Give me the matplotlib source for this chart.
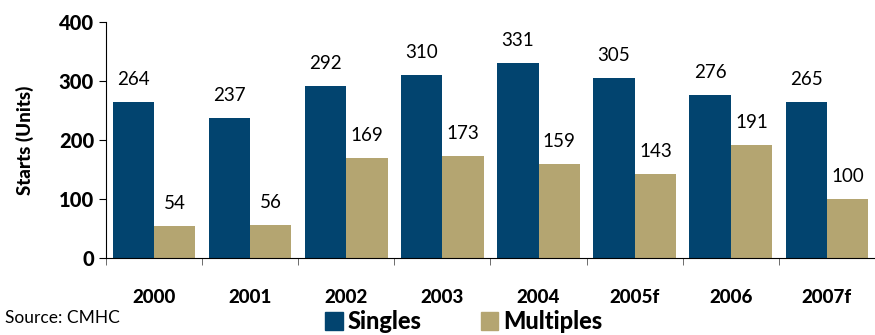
import numpy as np
import matplotlib.pyplot as plt
from matplotlib.patches import Patch

years = ['2000', '2001', '2002', '2003', '2004', '2005f', '2006', '2007f']
singles = [264, 237, 292, 310, 331, 305, 276, 265]
multiples = [54, 56, 169, 173, 159, 143, 191, 100]

navy = '#02446F'
tan = '#B4A571'
plt.rcParams['font.family'] = ['Lato', 'DejaVu Sans']

fig = plt.figure(figsize=(8.75, 3.35), dpi=100)
ax = fig.add_axes([0.121, 0.23, 0.879, 0.704])

x = np.arange(len(years))
w = 0.43
b1 = ax.bar(x - w / 2, singles, w, color=navy)
b2 = ax.bar(x + w / 2, multiples, w, color=tan)

for bars, vals in ((b1, singles), (b2, multiples)):
    for r, v in zip(bars, vals):
        ax.annotate(str(v), (r.get_x() + r.get_width() / 2, v),
                    xytext=(0, 10), textcoords='offset points',
                    ha='center', va='bottom', fontsize=13.5)

ax.set_ylim(0, 400)
ax.set_yticks([0, 100, 200, 300, 400])
ax.set_xlim(-0.5, len(years) - 0.5)
ax.set_xticks(x)
ax.set_xticklabels(years, fontweight='black', fontsize=13.5)
ax.set_xticks(np.arange(-0.5, len(years)), minor=True)
ax.tick_params(axis='x', which='major', length=0, pad=22)
ax.tick_params(axis='x', which='minor', length=5, color='#555555')
ax.tick_params(axis='y', length=5, labelsize=14.5)
for t in ax.get_yticklabels():
    t.set_fontweight('black')
ax.set_ylabel('Starts (Units)', fontweight='black', fontsize=13.5, labelpad=18)

for s in ('top', 'right'):
    ax.spines[s].set_visible(False)

fig.text(0.006, 0.05, 'Source: CMHC', fontsize=12.5, va='center')
handles = [Patch(color=navy, label='Singles'), Patch(color=tan, label='Multiples')]
fig.legend(handles=handles, loc='center', bbox_to_anchor=(0.53, 0.04), ncol=2,
           frameon=False, prop={'weight': 'black', 'size': 17},
           handlelength=0.75, handleheight=0.75, handletextpad=0.2, columnspacing=2.5)

fig.savefig('out.png', dpi=100)
